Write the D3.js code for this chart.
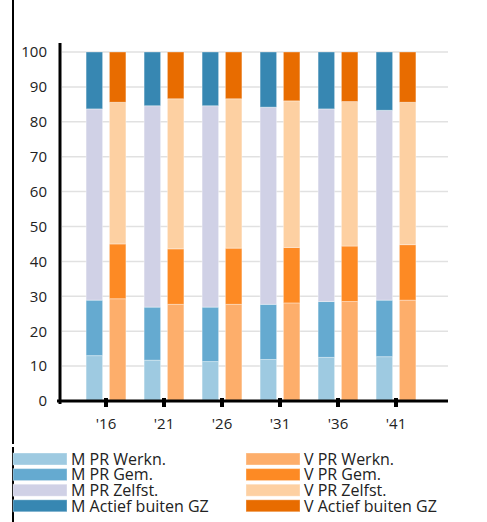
<!DOCTYPE html>
<html>
<head>
<meta charset="utf-8">
<script src="https://cdn.jsdelivr.net/npm/d3@7"></script>
<style>
  html, body { margin: 0; padding: 0; background: #fff; }
  svg { display: block; }
  text { font-family: "Open Sans", sans-serif; fill: #222; }
</style>
</head>
<body>
<svg id="chart" width="487" height="522"></svg>
<script>
// Years (tick labels) and category keys
const years = ["'16", "'21", "'26", "'31", "'36", "'41"];
const layers = ["PR Werkn.", "PR Gem.", "PR Zelfst.", "Actief buiten GZ"];
const yTicks = [0, 10, 20, 30, 40, 50, 60, 70, 80, 90, 100];

// Share (%) per layer, men
const mWerkn  = [13.0, 11.7, 11.3, 11.9, 12.5, 12.7];
const mGem    = [15.9, 15.2, 15.6, 15.8, 16.0, 16.2];
const mZelfst = [54.8, 57.7, 57.7, 56.5, 55.2, 54.4];
const mActief = [16.3, 15.4, 15.4, 15.8, 16.3, 16.7];

// Share (%) per layer, women
const vWerkn  = [29.3, 27.7, 27.7, 28.1, 28.5, 28.9];
const vGem    = [15.7, 15.9, 16.1, 15.9, 15.9, 15.9];
const vZelfst = [40.6, 43.0, 42.8, 42.0, 41.4, 40.8];
const vActief = [14.4, 13.4, 13.4, 14.0, 14.2, 14.4];

const mColors = ["#9ecae1", "#65aad0", "#d0d1e6", "#3787b2"];
const vColors = ["#fdae6b", "#fd8a24", "#fdd0a2", "#e86c00"];

const svg = d3.select("#chart");

// Panel border lines on the left
svg.append("line").attr("x1", 13).attr("x2", 13).attr("y1", 0).attr("y2", 444)
  .attr("stroke", "#000").attr("stroke-width", 2);
svg.append("line").attr("x1", 13).attr("x2", 13).attr("y1", 447).attr("y2", 522)
  .attr("stroke", "#000").attr("stroke-width", 2);

const x = d3.scaleBand().domain(years).range([77, 425]).paddingInner(0).paddingOuter(0);
const y = d3.scaleLinear().domain([0, 100]).range([401, 52]);

// Gridlines
svg.append("g").selectAll("line").data(yTicks.filter(d => d > 0)).join("line")
  .attr("x1", 62).attr("x2", 448)
  .attr("y1", d => y(d)).attr("y2", d => y(d))
  .attr("stroke", "#e1e1e1").attr("stroke-width", 1.5);

// Stacked bars
function rows(a, b, c, d) {
  return years.map((yr, i) => ({ year: yr, [layers[0]]: a[i], [layers[1]]: b[i], [layers[2]]: c[i], [layers[3]]: d[i] }));
}
const stack = d3.stack().keys(layers);
const mStack = stack(rows(mWerkn, mGem, mZelfst, mActief));
const vStack = stack(rows(vWerkn, vGem, vZelfst, vActief));

const barW = 16.5, gap = 6.8;
function drawBars(series, colors, offset) {
  const g = svg.append("g");
  series.forEach((s, k) => {
    g.append("g").selectAll("rect").data(s).join("rect")
      .attr("x", d => x(d.data.year) + x.bandwidth() / 2 + offset)
      .attr("width", barW)
      .attr("y", d => y(d[1]))
      .attr("height", d => y(d[0]) - y(d[1]))
      .attr("fill", colors[k])
      .attr("stroke", "#fff").attr("stroke-opacity", 0.35).attr("stroke-width", 1);
  });
}
drawBars(mStack, mColors, -gap / 2 - barW);
drawBars(vStack, vColors, gap / 2);

// Y axis
const yAxis = svg.append("g").attr("transform", "translate(60,0)")
  .call(d3.axisLeft(y).tickValues(yTicks).tickSize(0).tickPadding(13));
yAxis.select(".domain").remove();
yAxis.append("line").attr("x1", 0).attr("x2", 0).attr("y1", 43).attr("y2", 404)
  .attr("stroke", "#000").attr("stroke-width", 3);
yAxis.selectAll("text").style("font-size", "15px").attr("fill", "#222")
  .style("font-family", "'Open Sans', sans-serif");

// X axis
const xAxis = svg.append("g").attr("transform", "translate(0,401)")
  .call(d3.axisBottom(x).tickSize(0).tickPadding(17));
xAxis.select(".domain").remove();
xAxis.append("line").attr("x1", 57).attr("x2", 448).attr("y1", 0).attr("y2", 0)
  .attr("stroke", "#000").attr("stroke-width", 3);
xAxis.selectAll(".tick").append("rect")
  .attr("x", -2).attr("y", -3).attr("width", 4).attr("height", 9).attr("fill", "#000");
xAxis.selectAll("text").style("font-size", "15px").attr("fill", "#222")
  .style("font-family", "'Open Sans', sans-serif");

// Legend
const legendItems = [];
layers.forEach((l, i) => legendItems.push({ label: "M " + l, color: mColors[i], col: 0, row: i }));
layers.forEach((l, i) => legendItems.push({ label: "V " + l, color: vColors[i], col: 1, row: i }));
const leg = svg.append("g");
const lg = leg.selectAll("g").data(legendItems).join("g")
  .attr("transform", d => `translate(${d.col ? 246 : 13},${453 + d.row * 15.6})`);
lg.append("rect").attr("width", 54).attr("height", 12).attr("fill", d => d.color)
  .attr("stroke", "#fff").attr("stroke-opacity", 0.35);
lg.append("text").attr("x", 58).attr("y", 6).attr("dy", "0.36em")
  .style("font-size", "16px").text(d => d.label);
</script>
</body>
</html>
